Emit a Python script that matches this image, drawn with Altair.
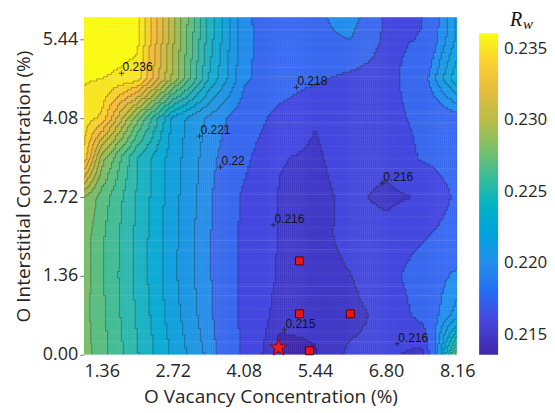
import json
import altair as alt

# ---------------- data ----------------
X_NODES = [1.02, 1.36, 2.04, 2.72, 3.40, 4.08, 4.76, 5.44, 6.12, 6.80, 7.48, 8.16]
Y_NODES = [0.0, 0.68, 1.36, 2.04, 2.72, 3.40, 4.08, 4.76, 5.44, 5.82]

# R_w values (x1000) on the grid, one row per Y node (bottom -> top)
RW_ROW_0 = [228.45, 227.45, 225.07, 222.82, 220.72, 217.6, 214.5, 214.9, 216.3, 216.4, 215.4, 228.0]
RW_ROW_1 = [228.4, 227.25, 224.87, 222.47, 220.35, 217.6, 215.4, 215.3, 215.5, 216.5, 218.6, 221.5]
RW_ROW_2 = [228.5, 227.15, 224.7, 222.27, 220.2, 217.6, 215.8, 215.3, 215.95, 217.3, 219.0, 220.3]
RW_ROW_3 = [228.55, 227.2, 224.75, 222.3, 220.2, 217.6, 215.9, 215.35, 216.6, 216.7, 217.8, 218.9]
RW_ROW_4 = [229.0, 227.6, 224.9, 222.4, 220.3, 217.7, 215.9, 215.5, 216.4, 215.6, 216.15, 218.4]
RW_ROW_5 = [234.9, 229.5, 225.0, 222.5, 220.5, 218.5, 216.1, 215.75, 216.8, 216.5, 218.2, 218.8]
RW_ROW_6 = [235.5, 234.8, 228.3, 222.7, 220.8, 219.3, 217.35, 216.1, 216.9, 217.3, 218.5, 219.4]
RW_ROW_7 = [236.1, 236.0, 235.5, 229.8, 224.0, 220.2, 219.2, 218.3, 217.5, 217.3, 219.2, 223.8]
RW_ROW_8 = [237.0, 237.0, 236.3, 230.2, 224.6, 220.3, 219.3, 219.6, 220.0, 217.6, 218.1, 222.3]
RW_ROW_9 = [237.2, 237.2, 236.4, 230.4, 224.8, 220.2, 219.3, 219.6, 220.8, 217.7, 217.9, 222.2]

LEVELS = [0.215, 0.216, 0.218, 0.220, 0.221, 0.222, 0.223, 0.224, 0.225, 0.226,
          0.227, 0.228, 0.229, 0.230, 0.231, 0.232, 0.233, 0.234, 0.235, 0.236]

X_TICKS = [1.36, 2.72, 4.08, 5.44, 6.80, 8.16]
Y_TICKS = [0.0, 1.36, 2.72, 4.08, 5.44]
CBAR_TICKS = [0.215, 0.220, 0.225, 0.230, 0.235]
CBAR_DOMAIN = [0.2136, 0.2361]

LABEL_TEXT = ["0.236", "0.221", "0.22", "0.218", "0.216", "0.216", "0.215", "0.216"]
LABEL_X = [1.742, 3.232, 3.633, 5.085, 6.728, 4.646, 4.856, 7.014]
LABEL_Y = [4.855, 3.771, 3.237, 4.614, 2.961, 2.238, 0.430, 0.189]

SQUARE_X = [5.144, 5.144, 6.117, 5.335]
SQUARE_Y = [1.618, 0.706, 0.706, 0.069]
STAR_X = [4.743]
STAR_Y = [0.12]

PARULA = ["#3e26a8", "#4653f0", "#248eeb", "#0cadd2", "#4cbe8c", "#b3bd4a", "#f6ba3f", "#f9fb14"]

# ---------------- helpers ----------------
RW_GRID = [RW_ROW_0, RW_ROW_1, RW_ROW_2, RW_ROW_3, RW_ROW_4,
           RW_ROW_5, RW_ROW_6, RW_ROW_7, RW_ROW_8, RW_ROW_9]
ROWS = [{"j": j, "row": [v / 1000.0 for v in r]} for j, r in enumerate(RW_GRID)]


def _hex(c):
    return [int(c[k:k + 2], 16) for k in (1, 3, 5)]


def parula_at(t):
    t = max(0.0, min(1.0, t))
    n = len(PARULA) - 1
    pos = t * n
    k = min(int(pos), n - 1)
    f = pos - k
    a, b = _hex(PARULA[k]), _hex(PARULA[k + 1])
    return "#" + "".join("%02x" % round(a[m] + (b[m] - a[m]) * f) for m in range(3))


d0, d1 = CBAR_DOMAIN
BAND_COLORS = [parula_at(0.0)] + [parula_at((L - d0) / (d1 - d0)) for L in LEVELS]

K = 18
NX = len(X_NODES) - 1
NY = len(Y_NODES) - 1
XN = json.dumps(X_NODES)
YN = json.dumps(Y_NODES)
BAND_EXPR = " + ".join(f"(datum.v >= {L} ? 1 : 0)" for L in LEVELS)

STAR_PATH = ("M0,-1L0.2245,-0.309L0.951,-0.309L0.363,0.118L0.588,0.809L0,0.382"
             "L-0.588,0.809L-0.363,0.118L-0.951,-0.309L-0.2245,-0.309Z")
PLUS_PATH = "M-1,0L1,0M0,-1L0,1"

FONT = "Open Sans"
TXT = "#262626"
XS = alt.Scale(domain=[X_NODES[0], X_NODES[-1]], nice=False, zero=False)
YS = alt.Scale(domain=[Y_NODES[0], Y_NODES[-1]], nice=False, zero=False)
XAX = alt.Axis(values=X_TICKS, format=".2f", title="O Vacancy Concentration (%)",
               labelFont=FONT, labelFontSize=18, titleFont=FONT, titleFontSize=19,
               titleFontWeight="normal", labelColor=TXT, titleColor=TXT, orient="bottom",
               ticks=False, domain=False, grid=False,
               labelPadding=8, titlePadding=7, labelFlush=False)
YAX = alt.Axis(values=Y_TICKS, format=".2f", title="O Interstitial Concentration (%)",
               labelFont=FONT, labelFontSize=18, titleFont=FONT, titleFontSize=19,
               titleFontWeight="normal", labelColor=TXT, titleColor=TXT, orient="left",
               tickSize=4, tickColor="#777", domain=False, grid=False,
               labelPadding=2, titlePadding=9, labelFlush=False)


def X(f):
    return alt.X(f, type="quantitative", scale=XS, axis=XAX)


def Y(f):
    return alt.Y(f, type="quantitative", scale=YS, axis=YAX)


# ---------------- filled contour (bilinear field evaluated by Vega-Lite) ----------------
rects = alt.Chart().mark_rect(clip=True).encode(
    x=X("x1"), x2="x2e:Q", y=Y("y1"), y2="y2e:Q",
    color=alt.Color("v:Q", scale=alt.Scale(type="threshold", domain=LEVELS, range=BAND_COLORS),
                    legend=None),
)

RULE_STYLE = dict(color="#1a1a1a", strokeWidth=0.55, opacity=0.6, clip=True)
vedges = alt.Chart().mark_rule(**RULE_STYLE).transform_window(
    rb="lead(band)", groupby=["gr"], sort=[alt.SortField("gc", order="ascending")]
).transform_filter("isValid(datum.rb) && datum.rb != datum.band").encode(
    x=X("x2"), y=Y("y1"), y2="y2:Q")

hedges = alt.Chart().mark_rule(**RULE_STYLE).transform_window(
    ub="lead(band)", groupby=["gc"], sort=[alt.SortField("gr", order="ascending")]
).transform_filter("isValid(datum.ub) && datum.ub != datum.band").encode(
    x=X("x1"), x2="x2:Q", y=Y("y2"))

rows_src = alt.InlineData(values=ROWS)
contour = alt.layer(rects, vedges, hedges, data=alt.sequence(0, NX * NY * K * K, as_="n")) \
    .transform_calculate(a=f"datum.n % {K}") \
    .transform_calculate(b=f"floor(datum.n / {K}) % {K}") \
    .transform_calculate(i=f"floor(datum.n / {K * K}) % {NX}") \
    .transform_calculate(j=f"floor(datum.n / {K * K * NX})") \
    .transform_calculate(jp="datum.j + 1") \
    .transform_lookup(lookup="j", from_=alt.LookupData(data=rows_src, key="j", fields=["row"]), as_=["r0"]) \
    .transform_lookup(lookup="jp", from_=alt.LookupData(data=rows_src, key="j", fields=["row"]), as_=["r1"]) \
    .transform_calculate(x1=f"{XN}[datum.i] + ({XN}[datum.i+1] - {XN}[datum.i]) * datum.a / {K}") \
    .transform_calculate(x2=f"{XN}[datum.i] + ({XN}[datum.i+1] - {XN}[datum.i]) * (datum.a + 1) / {K}") \
    .transform_calculate(y1=f"{YN}[datum.j] + ({YN}[datum.j+1] - {YN}[datum.j]) * datum.b / {K}") \
    .transform_calculate(y2=f"{YN}[datum.j] + ({YN}[datum.j+1] - {YN}[datum.j]) * (datum.b + 1) / {K}") \
    .transform_calculate(x2e="datum.x2 + 0.008", y2e="datum.y2 + 0.008") \
    .transform_calculate(t=f"(datum.a + 0.5) / {K}", s=f"(datum.b + 0.5) / {K}") \
    .transform_calculate(v="(1 - datum.s) * ((1 - datum.t) * datum.r0[datum.i] + datum.t * datum.r0[datum.i + 1])"
                           " + datum.s * ((1 - datum.t) * datum.r1[datum.i] + datum.t * datum.r1[datum.i + 1])") \
    .transform_calculate(band=BAND_EXPR) \
    .transform_calculate(gc=f"datum.i * {K} + datum.a", gr=f"datum.j * {K} + datum.b")

# ---------------- contour labels ----------------
lab_data = alt.Data(values=[{"t": t, "x": x, "y": y} for t, x, y in zip(LABEL_TEXT, LABEL_X, LABEL_Y)])
plus = alt.Chart(lab_data).mark_point(shape=PLUS_PATH, size=30, filled=False,
                                      strokeWidth=0.8, color="#222", opacity=1).encode(x=X("x"), y=Y("y"))
labels = alt.Chart(lab_data).mark_text(align="left", baseline="alphabetic", dx=1, dy=-2, fontSize=12,
                                       font="Liberation Sans", color="#141414").encode(
    x=X("x"), y=Y("y"), text="t:N")

# ---------------- markers ----------------
sq_data = alt.Data(values=[{"x": x, "y": y} for x, y in zip(SQUARE_X, SQUARE_Y)])
squares = alt.Chart(sq_data).mark_square(size=64, color="#e8161b", stroke="#5a0000",
                                          strokeWidth=1, opacity=1).encode(x=X("x"), y=Y("y"))
st_data = alt.Data(values=[{"x": x, "y": y} for x, y in zip(STAR_X, STAR_Y)])
star = alt.Chart(st_data).mark_point(shape=STAR_PATH, size=330, filled=True, color="#f01c1c",
                                     stroke="#8b0000", strokeWidth=0.8, opacity=1).encode(x=X("x"), y=Y("y"))

# ---------------- colorbar ----------------
cb_data = alt.Data(values=[{"c": c} for c in CBAR_DOMAIN])
colorbar = alt.Chart(cb_data).mark_point(size=1, filled=True, opacity=0).encode(
    x=alt.value(0), y=alt.value(0),
    color=alt.Color("c:Q", scale=alt.Scale(type="linear", domain=CBAR_DOMAIN, range=PARULA,
                                           nice=False, zero=False),
                    legend=alt.Legend(title=None, orient="none", legendX=396, legendY=16,
                                      direction="vertical", gradientLength=322, gradientThickness=19,
                                      values=CBAR_TICKS, format=".3f", labelFont=FONT,
                                      labelFontSize=17, labelColor=TXT, labelOffset=6,
                                      labelOverlap=False, gradientStrokeWidth=0, padding=0,
                                      gradientOpacity=1)),
)

r_data = alt.Data(values=[{"t": "R"}])
w_data = alt.Data(values=[{"t": "w"}])
r_txt = alt.Chart(r_data).mark_text(font="Liberation Serif", fontStyle="italic", fontSize=20,
                                    align="left", baseline="alphabetic", color="#111").encode(
    x=alt.value(427), y=alt.value(9), text="t:N")
w_txt = alt.Chart(w_data).mark_text(font="Liberation Serif", fontStyle="italic", fontSize=15,
                                    align="left", baseline="alphabetic", color="#111").encode(
    x=alt.value(440), y=alt.value(12), text="t:N")

chart = alt.layer(contour, plus, labels, squares, star, colorbar, r_txt, w_txt).resolve_scale(
    color="independent"
).properties(
    width=374, height=338,
    padding={"left": 76, "top": 9, "right": 90, "bottom": 58},
    autosize=alt.AutoSizeParams(type="none"),
).configure_view(stroke=None)

chart.save("out.html", embed_options={"renderer": "svg", "actions": False})
